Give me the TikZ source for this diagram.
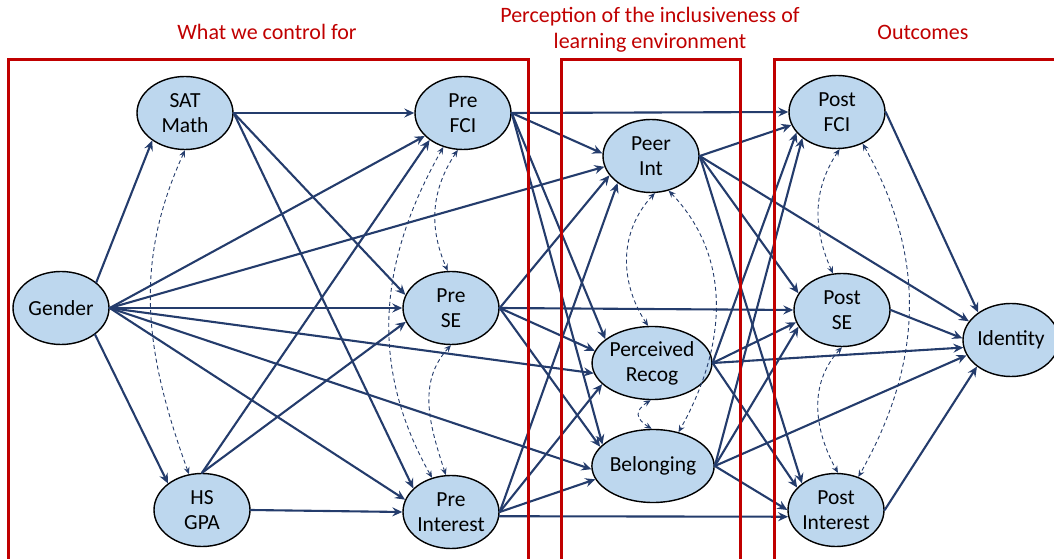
\documentclass[tikz,border=0pt]{standalone}
\usepackage{fontspec}
\setmainfont{Carlito}
\usetikzlibrary{arrows.meta,shapes.geometric,bending}
\definecolor{edgeblue}{RGB}{36,60,108}
\definecolor{nodefill}{RGB}{189,215,238}
\definecolor{boxred}{RGB}{192,0,0}
\begin{document}
\begin{tikzpicture}[x=1pt,y=1pt,
  var/.style={ellipse, draw=black, line width=1.4pt, fill=nodefill,
    minimum width=96pt, minimum height=73pt, inner sep=0pt, align=center,
    font=\fontsize{21.5}{25}\selectfont},
  pathedge/.style={draw=edgeblue, line width=2.1pt, line cap=round,
    -{Stealth[length=10pt,width=9pt,inset=3.5pt]}},
  covedge/.style={draw=edgeblue, line width=0.9pt, dash pattern=on 4pt off 3pt,
    {Stealth[length=7pt,width=6pt,inset=2.5pt]}-{Stealth[length=7pt,width=6pt,inset=2.5pt]}},
  region/.style={draw=boxred, line width=3pt},
  ttl/.style={text=boxred, font=\fontsize{22}{26}\selectfont, align=center}]
\useasboundingbox (0,0) rectangle (1054,559);

% titles
\node[ttl] (t1) at (267,559-32) {What we control for};
\node[ttl] (t2) at (650,559-29.5) {Perception of the inclusiveness of\\learning environment};
\node[ttl] (t3) at (923,559-32) {Outcomes};

% nodes
\node[var] (sat)    at (185,559-113) {SAT\\Math};
\node[var] (gender) at (61,559-308) {Gender};
\node[var] (hs)     at (202,559-510) {HS\\GPA};
\node[var] (prefci) at (463,559-113) {Pre\\FCI};
\node[var] (prese)  at (451,559-308) {Pre\\SE};
\node[var] (preint) at (451,559-512) {Pre\\Interest};
\node[var] (peer)   at (651,559-156) {Peer\\Int};
\node[var] (recog)  at (652,559-363) {Perceived\\Recog};
\node[var] (belong) at (653,559-466) {Belonging};
\node[var] (postfci) at (837,559-112) {Post\\FCI};
\node[var] (postse)  at (842,559-310) {Post\\SE};
\node[var] (postint) at (836,559-510) {Post\\Interest};
\node[var] (ident)   at (1011,559-340) {Identity};

% solid paths: source.anchor/target.anchor
\foreach \s/\t in {
  gender.36/sat.220, gender.-38/hs.142,
  gender.east/prefci.211, gender.east/prese.180, gender.east/preint.165,
  gender.east/peer.193, gender.east/recog.190, gender.east/belong.183,
  sat.east/prefci.180, sat.east/prese.164, sat.east/preint.148,
  hs.north/prefci.219, hs.north/prese.197, hs.east/preint.180,
  prefci.east/postfci.180, prefci.east/peer.177, prefci.east/recog.153, prefci.east/belong.157,
  prese.east/postse.180, prese.east/peer.205, prese.east/recog.168, prese.east/belong.160,
  preint.-5/postint.188, preint.east/peer.219, preint.east/recog.203, preint.east/belong.193,
  peer.east/postfci.196, peer.east/postse.159, peer.east/postint.142, peer.east/ident.156,
  recog.east/postfci.207, recog.east/postse.195, recog.east/postint.150, recog.east/ident.189,
  belong.east/postfci.217, belong.east/postse.201, belong.east/postint.180, belong.east/ident.199,
  postfci.east/ident.140, postse.east/ident.178, postint.east/ident.218}
  \draw[pathedge] (\s) -- (\t);

% dashed covariances
\draw[covedge] (sat.-90) to[out=245,in=110] (hs.110);
\draw[covedge] (prefci.-98) to[out=235,in=115] (prese.95);
\draw[covedge] (prefci.-120) to[out=240,in=120] (preint.119);
\draw[covedge] (prese.-90) to[out=225,in=108] (preint.98);
\draw[covedge] (peer.-84) to[out=225,in=125] (recog.96);
\draw[covedge] (peer.-63) to[out=-45,in=60] (belong.53);
\draw[covedge] (recog.-92) to[out=210,in=150,looseness=1.8] (belong.92);
\draw[covedge] (postfci.-86) to[out=235,in=115] (postse.104);
\draw[covedge] (postfci.-51) to[out=-60,in=60] (postint.56);
\draw[covedge] (postse.-90) to[out=225,in=120] (postint.87);

% red regions
\draw[region] (8.6,-20) -- (8.6,559-60) -- (528,559-60) -- (528,-20);
\draw[region] (561,-20) -- (561,559-60) -- (740,559-60) -- (740,-20);
\draw[region] (774,-20) -- (774,559-60) -- (1090,559-60);
\end{tikzpicture}
\end{document}
